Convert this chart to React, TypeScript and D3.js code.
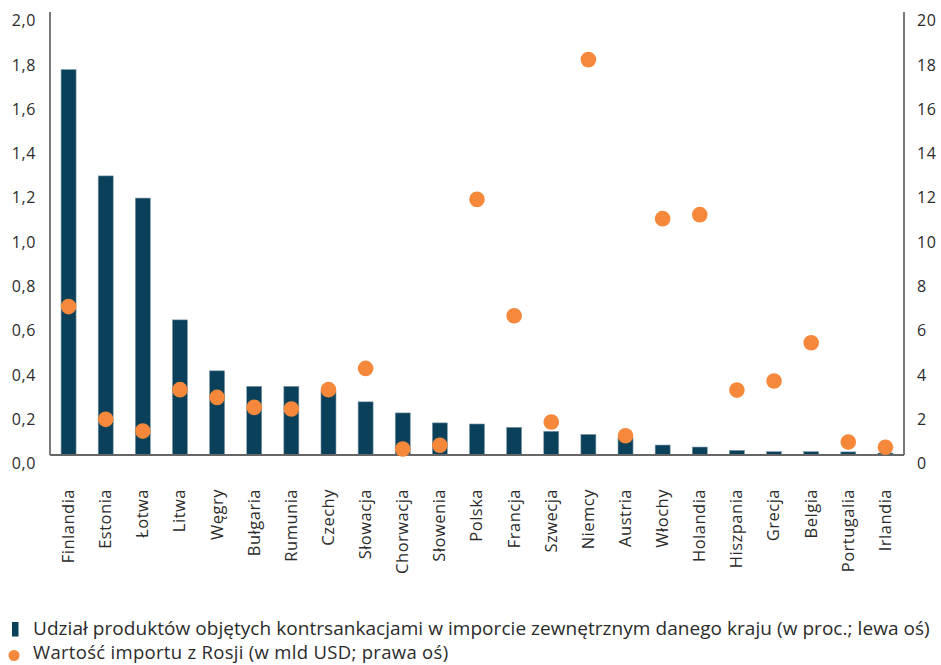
import React from "react";
import * as d3 from "d3";

const categories = ["Finlandia","Estonia","Łotwa","Litwa","Węgry","Bułgaria","Rumunia","Czechy","Słowacja","Chorwacja","Słowenia","Polska","Francja","Szwecja","Niemcy","Austria","Włochy","Holandia","Hiszpania","Grecja","Belgia","Portugalia","Irlandia"];
const shareValues = [1.74,1.26,1.16,0.61,0.38,0.31,0.31,0.29,0.24,0.19,0.145,0.14,0.125,0.107,0.093,0.08,0.045,0.036,0.021,0.015,0.015,0.014,0.009];
const importValues = [6.7,1.61,1.08,2.95,2.6,2.15,2.08,2.95,3.91,0.27,0.44,11.54,6.29,1.49,17.85,0.87,10.67,10.85,2.93,3.34,5.07,0.59,0.35];
const leftTicks = [0,0.2,0.4,0.6,0.8,1.0,1.2,1.4,1.6,1.8,2.0];
const rightTicks = [0,2,4,6,8,10,12,14,16,18,20];
const legendLabels = [
  "Udział produktów objętych kontrsankacjami w imporcie zewnętrznym danego kraju (w proc.; lewa oś)",
  "Wartość importu z Rosji (w mld USD; prawa oś)",
];

const W = 941, H = 665;
const left = 50, right = 904, top = 12, bottom = 455;
const barColor = "#0a4059";
const dotColor = "#f5883b";
const textColor = "#2b2b2b";
const font = "'Open Sans', sans-serif";

export default function App() {
  const x = d3.scaleBand<string>().domain(categories).range([left, right]).paddingInner(0).paddingOuter(0);
  const yL = d3.scaleLinear().domain([0, 2]).range([bottom, top]);
  const yR = d3.scaleLinear().domain([0, 20]).range([bottom, top]);
  const bw = 15;
  const fmt = (v: number) => v.toFixed(1).replace(".", ",");
  return (
    <svg width={W} height={H} style={{ position: "absolute", left: 0, top: 0, background: "#fff" }} fontFamily={font}>
      {/* bars */}
      {categories.map((c, i) => (
        <rect key={c} x={(x(c) as number) + x.bandwidth() / 2 - bw / 2} y={yL(shareValues[i])}
          width={bw} height={bottom - yL(shareValues[i])} fill={barColor} stroke="#7f9aaa" strokeWidth={0.6} />
      ))}
      {/* axes */}
      <line x1={left} x2={left} y1={top} y2={bottom} stroke="#222" strokeWidth={1.2} />
      <line x1={right} x2={right} y1={top} y2={bottom} stroke="#222" strokeWidth={1.2} />
      <line x1={left} x2={right} y1={bottom} y2={bottom} stroke="#666" strokeWidth={2} />
      {/* dots */}
      {categories.map((c, i) => (
        <circle key={c} cx={(x(c) as number) + x.bandwidth() / 2} cy={yR(importValues[i])} r={7.8} fill={dotColor} />
      ))}
      {/* left ticks */}
      {leftTicks.map(t => (
        <text key={t} x={36} y={yL(t) + 10} textAnchor="end" dominantBaseline="middle" fontSize={16} letterSpacing={0.6} fill={textColor}>{fmt(t)}</text>
      ))}
      {rightTicks.map(t => (
        <text key={t} x={917} y={yR(t) + 10} textAnchor="start" dominantBaseline="middle" fontSize={16} letterSpacing={0.6} fill={textColor}>{t}</text>
      ))}
      {/* category labels */}
      {categories.map(c => {
        const cx = (x(c) as number) + x.bandwidth() / 2;
        return (
          <text key={c} transform={`translate(${cx + 1},489) rotate(-90)`} textAnchor="end" dominantBaseline="middle" fontSize={16.5} letterSpacing={0.5} fill={textColor}>{c}</text>
        );
      })}
      {/* legend */}
      <rect x={12} y={622} width={6.5} height={14.5} fill={barColor} />
      <text x={33} y={629.5} dominantBaseline="middle" fontSize={19} letterSpacing={0.05} fill={textColor}>{legendLabels[0]}</text>
      <circle cx={14} cy={655.5} r={5.5} fill={dotColor} />
      <text x={33} y={654.5} dominantBaseline="middle" fontSize={18.5} letterSpacing={0.3} fill={textColor}>{legendLabels[1]}</text>
    </svg>
  );
}
